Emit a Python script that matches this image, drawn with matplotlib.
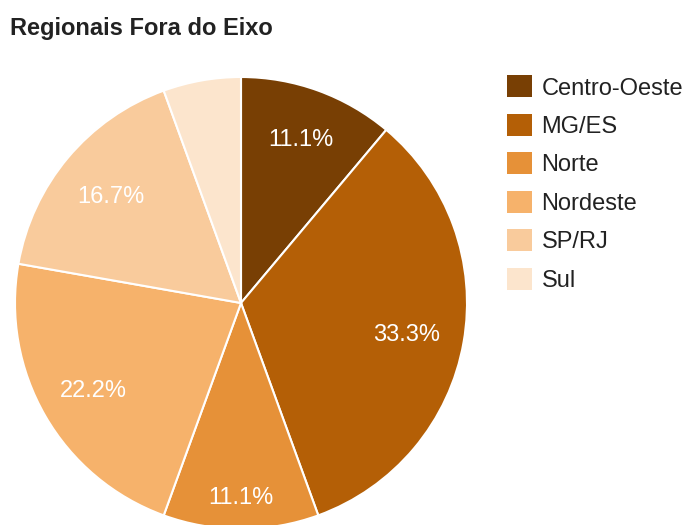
"""
Pie chart: share of Fora do Eixo regionals by region.
"""

import numpy as np
import matplotlib.pyplot as plt
from matplotlib.patches import Patch

plt.rcParams['font.family'] = ['Liberation Sans', 'DejaVu Sans']

# Data
REGIONS = ["Centro-Oeste", "MG/ES", "Norte", "Nordeste", "SP/RJ", "Sul"]
COUNTS = [2, 6, 2, 4, 3, 1]
COLORS = ["#783f04", "#b45f06", "#e69138", "#f6b26b", "#f9cb9c", "#fce5cd"]
TITLE = "Regionais Fora do Eixo"

# Label distance (fraction of radius) per slice, as placed in the original
LABEL_DIST = [0.78, 0.745, 0.85, 0.755, 0.75, 0.75]

W, H = 688, 525
CX, CY, R = 241, 303, 226


def main():
    fig = plt.figure(figsize=(W / 100, H / 100), dpi=100)
    ax = fig.add_axes([(CX - R) / W, (H - CY - R) / H, 2 * R / W, 2 * R / H])

    total = sum(COUNTS)
    wedges, _ = ax.pie(
        COUNTS, colors=COLORS, startangle=90, counterclock=False,
        radius=1, wedgeprops=dict(edgecolor='white', linewidth=1.5),
    )
    ax.set_xlim(-1, 1)
    ax.set_ylim(-1, 1)
    ax.set_aspect('equal')
    ax.axis('off')

    # Percentage labels (smallest slice left unlabeled)
    for w, n, d in zip(wedges, COUNTS, LABEL_DIST):
        pct = 100 * n / total
        if pct < 10:
            continue
        ang = np.deg2rad((w.theta1 + w.theta2) / 2)
        ax.text(d * np.cos(ang), d * np.sin(ang), f"{pct:.1f}%",
                ha='center', va='center_baseline', color='white', fontsize=17)

    fig.text(10 / W, 1 - 28 / H, TITLE, fontsize=17, fontweight='bold',
             ha='left', va='center', color='#222222')

    handles = [Patch(facecolor=c, edgecolor='none') for c in COLORS]
    fig.legend(handles, REGIONS, loc='upper left',
               bbox_to_anchor=(498 / W, 1 - 66 / H), frameon=False,
               fontsize=17, handlelength=1.06, handleheight=1.06,
               handletextpad=0.38, labelspacing=0.61, borderaxespad=0,
               labelcolor='#222222')

    fig.savefig("out.png", dpi=100)
    plt.close(fig)


if __name__ == "__main__":
    main()
